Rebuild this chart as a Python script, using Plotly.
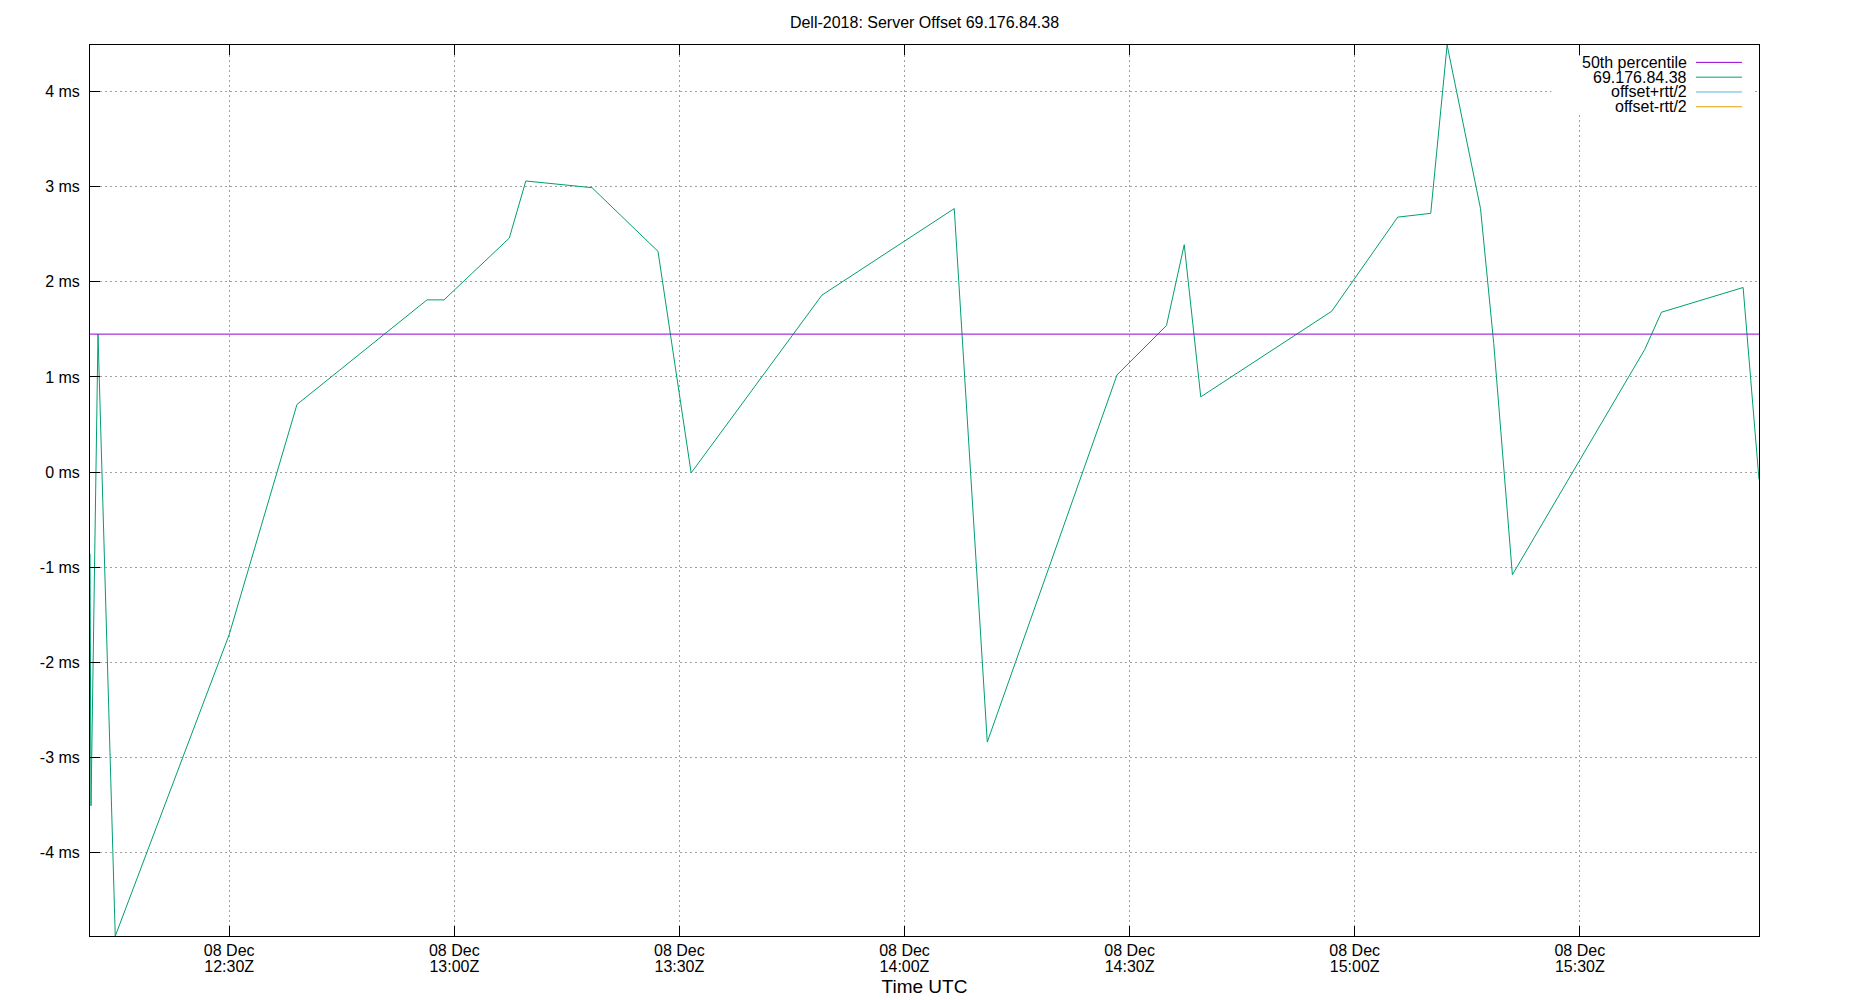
import plotly.graph_objects as go

# offset samples (time UTC, offset in ms)
times = [
    "2018-12-08 12:11:27", "2018-12-08 12:11:35", "2018-12-08 12:12:31",
    "2018-12-08 12:14:49", "2018-12-08 12:30:00", "2018-12-08 12:39:02",
    "2018-12-08 12:56:22", "2018-12-08 12:58:38", "2018-12-08 13:07:20",
    "2018-12-08 13:09:32", "2018-12-08 13:18:21", "2018-12-08 13:27:09",
    "2018-12-08 13:31:34", "2018-12-08 13:49:00", "2018-12-08 14:06:38",
    "2018-12-08 14:11:02", "2018-12-08 14:28:19", "2018-12-08 14:34:55",
    "2018-12-08 14:37:17", "2018-12-08 14:39:29", "2018-12-08 14:56:56",
    "2018-12-08 15:05:44", "2018-12-08 15:10:08", "2018-12-08 15:12:19",
    "2018-12-08 15:16:46", "2018-12-08 15:18:32", "2018-12-08 15:21:01",
    "2018-12-08 15:38:40", "2018-12-08 15:40:53", "2018-12-08 15:51:46",
    "2018-12-08 15:53:53",
]
offsets_ms = [
    -0.86, -3.51, 1.45,
    -4.88, -1.71, 0.71,
    1.81, 1.81, 2.46,
    3.06, 2.99, 2.32,
    -0.01, 1.86, 2.77,
    -2.84, 1.02, 1.54,
    2.39, 0.79, 1.69,
    2.68, 2.72, 4.49,
    2.77, 1.35, -1.08,
    1.29, 1.68, 1.94,
    -0.08,
]
p50_ms = 1.45

tick_times = ["2018-12-08 12:30", "2018-12-08 13:00", "2018-12-08 13:30",
              "2018-12-08 14:00", "2018-12-08 14:30", "2018-12-08 15:00",
              "2018-12-08 15:30"]
tick_dates = ["08 Dec"] * 7
tick_hours = ["12:30Z", "13:00Z", "13:30Z", "14:00Z", "14:30Z", "15:00Z", "15:30Z"]
y_ticks = [-4, -3, -2, -1, 0, 1, 2, 3, 4]

key_names = ["50th percentile", "69.176.84.38", "offset+rtt/2", "offset-rtt/2"]
key_colors = ["#9400d3", "#009e73", "#56b4e9", "#e69f00"]

fig = go.Figure()
# median line across the whole time span (on the overlay axis that carries the hour labels)
fig.add_trace(go.Scatter(x=[times[0], times[-1]], y=[p50_ms, p50_ms], mode="lines",
                         xaxis="x2", line=dict(color=key_colors[0], width=1),
                         showlegend=False))
fig.add_trace(go.Scatter(x=times, y=offsets_ms, mode="lines",
                         line=dict(color=key_colors[1], width=1), showlegend=False))

grid = dict(showgrid=True, gridcolor="#a0a0a0", griddash="2px,3px", gridwidth=1,
            showline=True, linecolor="black", linewidth=1,
            ticks="inside", ticklen=10, tickcolor="black", zeroline=False)

xrange = [times[0], times[-1]]
fig.update_layout(
    xaxis=dict(type="date", range=xrange, tickvals=tick_times, ticktext=tick_dates,
               mirror="ticks", automargin=False,
               title=dict(text="Time UTC", standoff=21), **grid),
    # second row of the two-line time labels, tighter than a <br> would give
    xaxis2=dict(type="date", range=xrange, overlaying="x", side="bottom", anchor="y",
                tickvals=tick_times, ticktext=tick_hours, ticks="", showgrid=False,
                showline=False, zeroline=False, automargin=False,
                ticklabelstandoff=19),
    yaxis=dict(range=[-4.879, 4.49], tickvals=y_ticks,
               ticktext=[f"{v} ms" for v in y_ticks], mirror=True,
               automargin=False, ticklabelstandoff=6, **grid),
)

# gnuplot style key: right aligned text with the sample line on its right,
# on a white box that hides the grid (kept under the top tick)
shapes = [dict(type="rect", xref="paper", yref="paper", x0=0.8756, x1=0.9968,
               y0=0.9226, y1=0.9877, fillcolor="white", line=dict(width=0), layer="above")]
annotations = []
for i, (name, col) in enumerate(zip(key_names, key_colors)):
    yy = 0.9805 - i * 0.0166
    shapes.append(dict(type="line", xref="paper", yref="paper", x0=0.9622, x1=0.9898,
                       y0=yy, y1=yy, line=dict(color=col, width=1), layer="above"))
    annotations.append(dict(text=name, xref="paper", yref="paper", x=0.9580, y=yy,
                            xanchor="right", yanchor="middle", showarrow=False,
                            font=dict(size=16, color="black")))

# page body has an 8px margin, so the figure is 8px smaller and the margins shifted
fig.update_layout(
    width=1842, height=992,
    margin=dict(l=82, r=91, t=37, b=64),
    paper_bgcolor="white", plot_bgcolor="white",
    font=dict(family="Liberation Sans", size=16, color="black"),
    title=dict(text="Dell-2018: Server Offset 69.176.84.38", x=0.5, xref="paper",
               y=0.9859, yanchor="middle", font=dict(size=16)),
    shapes=shapes, annotations=annotations,
)

fig.write_html("out.html")
